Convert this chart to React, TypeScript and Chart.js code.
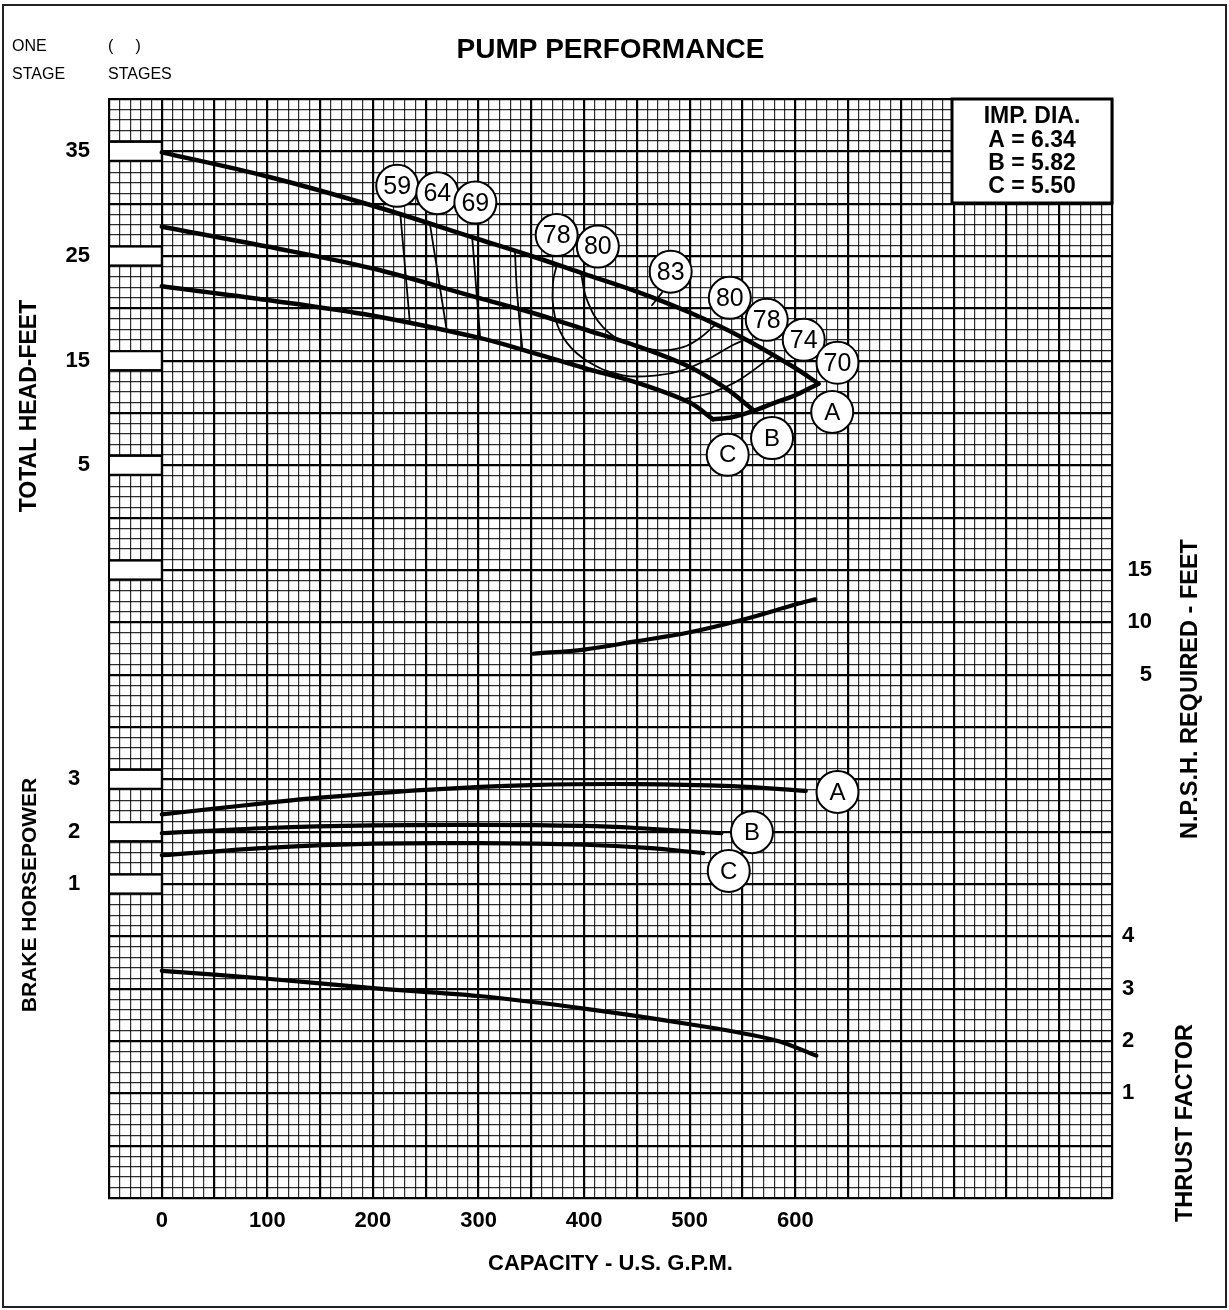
import React, { useEffect, useRef } from 'react';
import { Chart, registerables } from 'chart.js';

Chart.register(...registerables);

const FONT = "'Liberation Sans', Arial, Helvetica, sans-serif";

type Pt = [number, number];
type Lbl = [string, number, number];

// ---------- axis tick labels ----------
const capacityLabels = [0, 100, 200, 300, 400, 500, 600];
const headLabels = [35, 25, 15, 5];
const bhpLabels = [3, 2, 1];
const npshLabels = [15, 10, 5];
const thrustLabels = [4, 3, 2, 1];
const headBoxValues = [35, 25, 15, 5, -5];
const bhpBoxValues = [3, 2, 1];

// ---------- impeller diameters ----------
const impellerNames = ['A', 'B', 'C'];
const impellerDiameters = ['6.34', '5.82', '5.50'];

// ---------- head curves (GPM, feet) ----------
const headA: Pt[] = [[0, 34.9], [100, 32.6], [200, 29.8], [300, 26.6], [350, 25.0], [400, 23.3], [450, 21.6], [500, 19.6], [550, 17.2], [600, 14.3], [622, 12.8]];
const headB: Pt[] = [[0, 27.8], [100, 25.9], [200, 23.8], [300, 21.0], [350, 19.6], [400, 18.0], [450, 16.4], [500, 14.4], [535, 12.3], [560, 10.3]];
const headC: Pt[] = [[0, 22.1], [100, 20.8], [200, 19.3], [300, 17.2], [350, 15.8], [400, 14.3], [450, 12.9], [500, 11.0], [522, 9.4]];
const runout: Pt[] = [[522, 9.4], [540, 9.6], [560, 10.2], [581, 11.0], [600, 11.7], [622, 12.8]];

// ---------- efficiency contours (GPM, feet) ----------
const eff59: Pt[] = [[226, 28.95], [235, 18.6]];
const eff64: Pt[] = [[254, 28.05], [270, 17.8]];
const eff69: Pt[] = [[294, 26.8], [301.5, 17.2]];
const eff74a: Pt[] = [[334.5, 25.45], [336.5, 21.5], [341.5, 16.1]];
const eff78: Pt[] = [[374.3, 24.2], [370.5, 22.4], [372.4, 19.2], [383.8, 16.7], [405.6, 14.8], [436.8, 13.6], [469, 13.6], [493.7, 14.1], [516.4, 15.1], [541, 16.5], [552.4, 17.0]];
const eff80: Pt[] = [[397, 23.4], [402.7, 20.8], [417.9, 18.2], [440.6, 16.7], [469, 16.0], [493.7, 16.3], [510, 17.2], [524, 18.4]];
const eff74b: Pt[] = [[493.7, 11.3], [522, 12.0], [547.6, 13.2], [579, 15.5]];
const bep83: Pt[] = [[473.8, 21.5], [464.3, 20.3]];

// ---------- NPSH required (GPM, feet) ----------
const npshReq: Pt[] = [[352, 7.0], [400, 7.4], [450, 8.2], [500, 9.05], [550, 10.25], [600, 11.7], [619, 12.2]];

// ---------- brake horsepower (GPM, HP) ----------
const bhpA: Pt[] = [[0, 2.33], [50, 2.44], [100, 2.55], [150, 2.65], [250, 2.8], [350, 2.89], [450, 2.91], [540, 2.87], [610, 2.78]];
const bhpB: Pt[] = [[0, 1.97], [100, 2.07], [200, 2.12], [300, 2.13], [400, 2.11], [450, 2.07], [530, 1.97]];
const bhpC: Pt[] = [[0, 1.55], [100, 1.69], [200, 1.77], [300, 1.78], [400, 1.75], [460, 1.69], [513, 1.59]];

// ---------- thrust factor (GPM, factor) ----------
const thrustFactor: Pt[] = [[0, 3.34], [100, 3.19], [200, 3.01], [300, 2.86], [400, 2.62], [500, 2.32], [580, 2.02], [620, 1.72]];

// ---------- circled labels ----------
const effLabels: Lbl[] = [['59', 223, 31.7], ['64', 261, 31.0], ['69', 297, 30.1], ['78', 374, 27.0], ['80', 413, 25.9], ['83', 482, 23.5], ['80', 538, 21.0], ['78', 573, 18.9], ['74', 608, 17.0], ['70', 640, 14.8]];
const headCurveLabels: Lbl[] = [['A', 635, 10.1], ['B', 578, 7.6], ['C', 536, 6.0]];
const bhpCurveLabels: Lbl[] = [['A', 640, 2.76], ['B', 559, 1.99], ['C', 537, 1.25]];

const line = (data: Pt[], axis: string, width: number, tension = 0.35) => ({
  data: data.map(([x, y]) => ({ x, y })),
  yAxisID: axis,
  showLine: true,
  borderColor: '#000',
  backgroundColor: '#000',
  borderWidth: width,
  pointRadius: 0,
  pointHoverRadius: 0,
  tension,
  fill: false,
  borderCapStyle: 'round',
  borderJoinStyle: 'round',
});

const only = (list: number[]) => (v: any) => (list.includes(Number(v)) ? String(v) : '');

function badge(ctx: CanvasRenderingContext2D, cx: number, cy: number, text: string, size: number) {
  ctx.beginPath();
  ctx.arc(cx, cy, 21, 0, Math.PI * 2);
  ctx.fillStyle = '#fff';
  ctx.fill();
  ctx.lineWidth = 2;
  ctx.strokeStyle = '#000';
  ctx.stroke();
  ctx.fillStyle = '#000';
  ctx.font = `${size}px ${FONT}`;
  ctx.textAlign = 'center';
  ctx.textBaseline = 'middle';
  ctx.fillText(text, cx, cy + 1);
}

function vText(ctx: CanvasRenderingContext2D, text: string, x: number, y: number, size: number) {
  ctx.save();
  ctx.translate(x, y);
  ctx.rotate(-Math.PI / 2);
  ctx.font = `bold ${size}px ${FONT}`;
  ctx.fillStyle = '#000';
  ctx.textAlign = 'center';
  ctx.textBaseline = 'middle';
  ctx.fillText(text, 0, 0);
  ctx.restore();
}

const decorPlugin = {
  id: 'decor',
  beforeDraw(chart: any) {
    const { ctx, width, height } = chart;
    ctx.save();
    ctx.fillStyle = '#fff';
    ctx.fillRect(0, 0, width, height);
    ctx.restore();
  },
  beforeDatasetsDraw(chart: any) {
    const { ctx, scales } = chart;
    const x0 = scales.x.getPixelForValue(-50);
    const x1 = scales.x.getPixelForValue(0);
    ctx.save();
    ctx.lineWidth = 2;
    ctx.strokeStyle = '#000';
    ctx.fillStyle = '#fff';
    const box = (t: number, b: number) => {
      ctx.fillRect(x0, t, x1 - x0, b - t);
      ctx.strokeRect(x0, t, x1 - x0, b - t);
    };
    headBoxValues.forEach((v) => box(scales.y.getPixelForValue(v + 0.9), scales.y.getPixelForValue(v - 0.9)));
    bhpBoxValues.forEach((v) => box(scales.yBhp.getPixelForValue(v + 0.18), scales.yBhp.getPixelForValue(v - 0.18)));
    ctx.restore();
  },
  afterDatasetsDraw(chart: any) {
    const { ctx, scales, chartArea } = chart;
    const { x, y, yBhp } = scales;
    ctx.save();
    effLabels.forEach(([t, gx, h]) => badge(ctx, x.getPixelForValue(gx), y.getPixelForValue(h), t, 25));
    headCurveLabels.forEach(([t, gx, h]) => badge(ctx, x.getPixelForValue(gx), y.getPixelForValue(h), t, 24));
    bhpCurveLabels.forEach(([t, gx, h]) => badge(ctx, x.getPixelForValue(gx), yBhp.getPixelForValue(h), t, 24));

    // impeller diameter box
    const bw = 160;
    const bh = 104;
    const bx = chartArea.right - bw;
    const by = chartArea.top;
    ctx.fillStyle = '#fff';
    ctx.fillRect(bx, by, bw, bh);
    ctx.lineWidth = 3;
    ctx.strokeStyle = '#000';
    ctx.strokeRect(bx, by, bw, bh);
    ctx.fillStyle = '#000';
    ctx.font = `bold 23px ${FONT}`;
    ctx.textAlign = 'center';
    ctx.textBaseline = 'middle';
    const lines = ['IMP. DIA.', ...impellerNames.map((n, i) => `${n} = ${impellerDiameters[i]}`)];
    const ys = [18, 42, 65, 88];
    lines.forEach((s, i) => ctx.fillText(s, bx + bw / 2, by + ys[i]));

    // side titles
    vText(ctx, 'TOTAL HEAD-FEET', 30, 406, 23);
    vText(ctx, 'BRAKE HORSEPOWER', 30, 895, 21);
    vText(ctx, 'N.P.S.H. REQUIRED - FEET', 1191, 689, 23.5);
    vText(ctx, 'THRUST FACTOR', 1186, 1123, 23.5);

    // stage header
    ctx.font = `16px ${FONT}`;
    ctx.textAlign = 'left';
    ctx.fillText('ONE', 12, 47);
    ctx.fillText('STAGE', 12, 75);
    ctx.fillText('(     )', 108, 47);
    ctx.fillText('STAGES', 108, 75);

    // outer frame
    ctx.lineWidth = 2;
    ctx.strokeStyle = '#222';
    ctx.strokeRect(3, 5, 1223, 1302);
    ctx.restore();
  },
};

const tickFont = { family: FONT, size: 22, weight: 'bold' as const };
const MINOR = 'rgba(0,0,0,0.82)';

export default function App() {
  const ref = useRef<HTMLCanvasElement>(null);

  useEffect(() => {
    if (!ref.current) return;
    Chart.defaults.font.family = FONT;
    Chart.defaults.color = '#000';
    const chart = new Chart(ref.current, {
      type: 'scatter',
      data: {
        datasets: [
          line(headA, 'y', 4.5),
          line(headB, 'y', 4.5),
          line(headC, 'y', 4.5),
          line(runout, 'y', 4.5),
          line(eff59, 'y', 1.8, 0),
          line(eff64, 'y', 1.8, 0),
          line(eff69, 'y', 1.8, 0),
          line(eff74a, 'y', 1.8),
          line(eff78, 'y', 1.8, 0.4),
          line(eff80, 'y', 1.8, 0.4),
          line(eff74b, 'y', 1.8),
          line(bep83, 'y', 1.8, 0),
          line(npshReq, 'yNpsh', 4.2),
          line(bhpA, 'yBhp', 4.2),
          line(bhpB, 'yBhp', 4.2),
          line(bhpC, 'yBhp', 4.2),
          line(thrustFactor, 'yThrust', 4.2),
        ] as any,
      },
      options: {
        responsive: false,
        animation: false,
        events: [],
        layout: { padding: { left: 0, right: 75, top: 0, bottom: 0 } },
        plugins: {
          legend: { display: false },
          tooltip: { enabled: false },
          title: {
            display: true,
            fullSize: false,
            text: 'PUMP PERFORMANCE',
            color: '#000',
            font: { family: FONT, size: 28, weight: 'bold' },
            padding: { top: 33.2, bottom: 32.2 },
          },
        },
        scales: {
          x: {
            type: 'linear',
            position: 'bottom',
            min: -50,
            max: 900,
            afterFit: (s: any) => { s.height = 112; },
            ticks: {
              stepSize: 10,
              autoSkip: false,
              maxRotation: 0,
              minRotation: 0,
              padding: 10,
              font: tickFont,
              color: '#000',
              callback: only(capacityLabels),
            },
            grid: {
              drawTicks: false,
              color: (c: any) => (c.tick && c.tick.value % 50 === 0 ? '#000' : MINOR),
              lineWidth: (c: any) => (c.tick && c.tick.value % 50 === 0 ? 2.2 : 1.2),
            },
            border: { display: true, color: '#000', width: 2 },
            title: {
              display: true,
              text: 'CAPACITY - U.S. G.P.M.',
              color: '#000',
              font: { family: FONT, size: 22, weight: 'bold' },
              padding: { top: 0, bottom: 32.8 },
            },
          },
          y: {
            type: 'linear',
            position: 'left',
            weight: 0,
            min: -65,
            max: 40,
            afterFit: (s: any) => { s.width = 60; },
            ticks: {
              stepSize: 1,
              autoSkip: false,
              padding: 19,
              font: tickFont,
              color: '#000',
              callback: only(headLabels),
            },
            grid: {
              drawTicks: false,
              color: (c: any) => (c.tick && c.tick.value % 5 === 0 ? '#000' : MINOR),
              lineWidth: (c: any) => (c.tick && c.tick.value % 5 === 0 ? 2.2 : 1.2),
            },
            border: { display: true, color: '#000', width: 2 },
          },
          yBhp: {
            type: 'linear',
            position: 'left',
            weight: 1,
            min: -5,
            max: 16,
            afterFit: (s: any) => { s.width = 49; },
            ticks: {
              stepSize: 1,
              autoSkip: false,
              mirror: true,
              crossAlign: 'near',
              padding: 19,
              font: tickFont,
              color: '#000',
              callback: only(bhpLabels),
            },
            grid: { display: false, drawTicks: false },
            border: { display: false },
          },
          yThrust: {
            type: 'linear',
            position: 'right',
            weight: 0,
            min: -1,
            max: 20,
            afterFit: (s: any) => { s.width = 40; },
            ticks: {
              stepSize: 1,
              autoSkip: false,
              padding: 10,
              font: tickFont,
              color: '#000',
              callback: only(thrustLabels),
            },
            grid: { display: false, drawTicks: false },
            border: { display: false },
          },
          yNpsh: {
            type: 'linear',
            position: 'right',
            weight: 1,
            min: -45,
            max: 60,
            afterFit: (s: any) => { s.width = 2; },
            ticks: {
              stepSize: 5,
              autoSkip: false,
              mirror: true,
              crossAlign: 'near',
              padding: 0,
              font: tickFont,
              color: '#000',
              callback: only(npshLabels),
            },
            grid: { display: false, drawTicks: false },
            border: { display: false },
          },
        },
      } as any,
      plugins: [decorPlugin as any],
    });
    return () => chart.destroy();
  }, []);

  return (
    <div style={{ position: 'absolute', left: 0, top: 0, width: 1229, height: 1310, background: '#fff' }}>
      <canvas ref={ref} width={1229} height={1310} style={{ display: 'block', width: 1229, height: 1310 }} />
    </div>
  );
}
